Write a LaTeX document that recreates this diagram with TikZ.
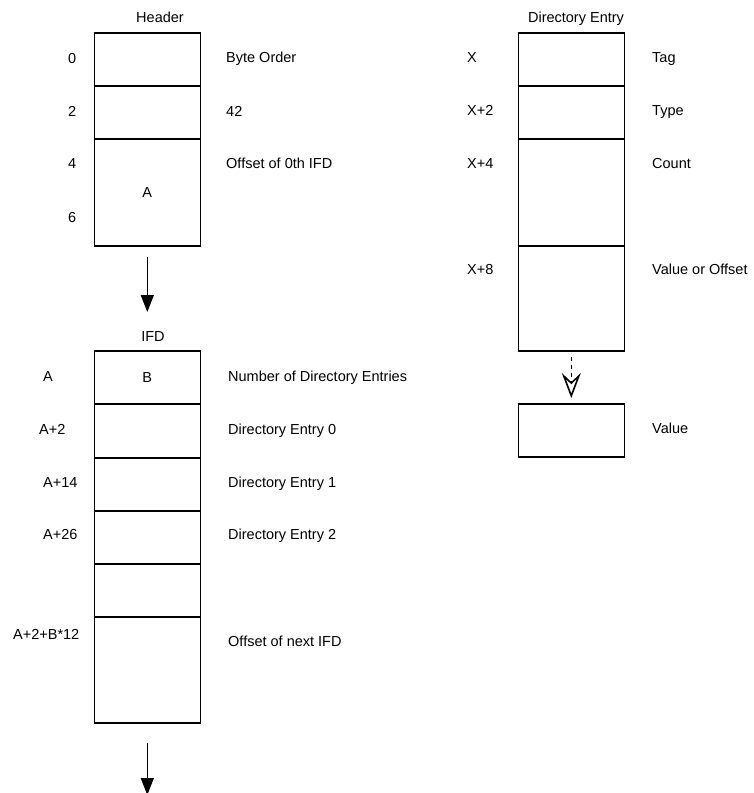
\documentclass[tikz,border=0pt]{standalone}
\usepackage{fontspec}
\setmainfont{Liberation Sans}
\usepackage{tikz}
\usetikzlibrary{arrows.meta, positioning}

\begin{document}
\begin{tikzpicture}[
  x=1pt, y=-1pt,
  node distance=0pt,
  cell/.style={rectangle, draw=black, line width=1.4pt, minimum width=106pt, minimum height=#1, inner sep=0pt, outer sep=0pt, font=\fontsize{14.5}{17}\selectfont},
  cell/.default=53pt,
  txt/.style={font=\fontsize{14.5}{17}\selectfont, inner sep=0pt, anchor=base west},
  title/.style={txt, anchor=base},
  arrow/.style={-{Triangle[width=13pt, length=17pt]}, line width=1.2pt},
  ptr/.style={dash pattern=on 4pt off 4pt, line width=0.9pt, -{Stealth[open, width=19pt, length=25pt, inset=9pt, line width=1.6pt]}}
]
  \useasboundingbox (0,0) rectangle (754,793);

  % Header
  \node[title] (hdrtitle) at (160,22) {Header};
  \node[cell, anchor=north] (h0) at (147.3,33) {};
  \node[cell, below=of h0] (h2) {};
  \node[cell=107pt, below=of h2] (h4) {A};

  % IFD - below the header
  \node[title] (ifdtitle) at (153,341) {IFD};
  \node[cell, anchor=north] (i0) at (147.3,351) {B};
  \node[cell=54pt, below=of i0] (i2) {};
  \node[cell, below=of i2] (i14) {};
  \node[cell, below=of i14] (i26) {};
  \node[cell, below=of i26] (igap) {};
  \node[cell=106pt, below=of igap] (inext) {};

  % Directory entry - right column
  \node[title] (detitle) at (576,22) {Directory Entry};
  \node[cell, anchor=north] (d0) at (571.3,33) {};
  \node[cell, below=of d0] (d2) {};
  \node[cell=107pt, below=of d2] (d4) {};
  \node[cell=105pt, below=of d4] (d8) {};
  \node[cell, anchor=north] (val) at (571.3,404) {};

  % Offsets (left of the boxes)
  \node[txt] (oh0) at (68,63) {0};
  \node[txt] (oh2) at (68,116) {2};
  \node[txt] (oh4) at (68,168) {4};
  \node[txt] (oh6) at (68,222) {6};
  \node[txt] (oi0) at (43,381) {A};
  \node[txt] (oi2) at (39,434) {A+2};
  \node[txt] (oi14) at (43,487) {A+14};
  \node[txt] (oi26) at (43,539) {A+26};
  \node[txt] (oinext) at (13,639) {A+2+B*12};
  \node[txt] (od0) at (467,62) {X};
  \node[txt] (od2) at (467,115) {X+2};
  \node[txt] (od4) at (467,168) {X+4};
  \node[txt] (od8) at (467,274) {X+8};

  % Field names (right of the boxes)
  \node[txt] (nh0) at (226,62) {Byte Order};
  \node[txt] (nh2) at (226,116) {42};
  \node[txt] (nh4) at (226,168) {Offset of 0th IFD};
  \node[txt] (ni0) at (228,381) {Number of Directory Entries};
  \node[txt] (ni2) at (228,434) {Directory Entry 0};
  \node[txt] (ni14) at (228,487) {Directory Entry 1};
  \node[txt] (ni26) at (228,539) {Directory Entry 2};
  \node[txt] (ninext) at (228,646) {Offset of next IFD};
  \node[txt] (nd0) at (652,62) {Tag};
  \node[txt] (nd2) at (652,115) {Type};
  \node[txt] (nd4) at (652,168) {Count};
  \node[txt] (nd8) at (652,274) {Value or Offset};
  \node[txt] (nval) at (652,433) {Value};

  % Arrows
  \coordinate (nextifd) at (147.3,795);
  \draw[arrow, shorten <=11pt, shorten >=39pt] (h4.south) -- (i0.north);
  \draw[arrow, shorten <=20pt] (inext.south) -- (nextifd);
  \draw[ptr, shorten <=6pt, shorten >=6pt] (d8.south) -- (val.north);
\end{tikzpicture}
\end{document}
